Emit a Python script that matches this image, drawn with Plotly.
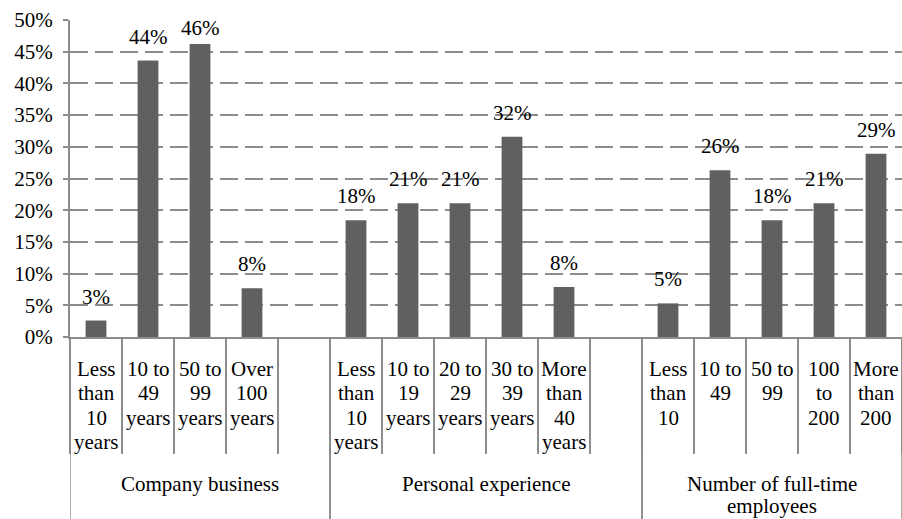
import plotly.graph_objects as go

# ---- data ----
groups = ["Company business", "Personal experience", "Number of full-time<br>employees"]
company_labels = ["Less<br>than<br>10<br>years", "10 to<br>49<br>years", "50 to<br>99<br>years", "Over<br>100<br>years"]
company_values = [0.026, 0.436, 0.462, 0.077]
personal_labels = ["Less<br>than<br>10<br>years", "10 to<br>19<br>years", "20 to<br>29<br>years", "30 to<br>39<br>years", "More<br>than<br>40<br>years"]
personal_values = [0.184, 0.211, 0.211, 0.316, 0.079]
employee_labels = ["Less<br>than<br>10", "10 to<br>49", "50 to<br>99", "100<br>to<br>200", "More<br>than<br>200"]
employee_values = [0.053, 0.263, 0.184, 0.211, 0.289]
y_ticks = [0, 0.05, 0.10, 0.15, 0.20, 0.25, 0.30, 0.35, 0.40, 0.45, 0.50]

# group definitions (label lists, values, whether a blank slot follows)
group_data = [
    (groups[0], company_labels, company_values, True),
    (groups[1], personal_labels, personal_values, True),
    (groups[2], employee_labels, employee_values, False),
]

BAR = "#606060"
GRID = "#8c8c8c"
FONT = "Liberation Serif, Times New Roman, serif"
FS = 21

all_keys, bar_keys, bar_vals, sub_labels = [], [], [], []
group_spans = []
for g, labels, vals, gap in group_data:
    start = len(all_keys)
    for lab, v in zip(labels, vals):
        key = g + " | " + lab
        all_keys.append(key)
        bar_keys.append(key)
        bar_vals.append(v)
        sub_labels.append((key, lab))
    if gap:
        all_keys.append(g + " | gap")
    group_spans.append((g, start, len(all_keys)))

fig = go.Figure()
fig.add_trace(go.Bar(x=bar_keys, y=bar_vals, marker=dict(color=BAR, line=dict(width=0)),
                     hoverinfo="skip"))

annotations = []
# data labels
for k, v in zip(bar_keys, bar_vals):
    annotations.append(dict(x=k, y=v, xref="x", yref="y", text=f"{round(v*100):.0f}%",
                            showarrow=False, yanchor="bottom", yshift=2 if v > 0.45 else 10,
                            font=dict(family=FONT, size=FS, color="black")))
# category labels, line by line
LINE = 24.4
for k, lab in sub_labels:
    for i, line in enumerate(lab.split("<br>")):
        annotations.append(dict(x=k, y=0, xref="x", yref="paper", text=line, showarrow=False,
                                yanchor="middle", yshift=-(32 + LINE * i),
                                font=dict(family=FONT, size=FS, color="black")))
# group labels
shapes = []
for g, s, e in group_spans:
    for i, line in enumerate(g.split("<br>")):
        annotations.append(dict(x=(s + e - 1) / 2, y=0, xref="x", yref="paper", text=line,
                                showarrow=False, yanchor="middle", yshift=-(147 + 22 * i),
                                font=dict(family=FONT, size=FS, color="black")))
    for xb in (s - 0.5, e - 0.5):
        shapes.append(dict(type="line", xref="x", yref="paper", x0=xb, x1=xb, y0=0, y1=-0.62,
                           line=dict(color=GRID, width=1.5)))

fig.update_layout(
    width=902, height=519,
    margin=dict(l=70, r=0, t=20, b=182),
    plot_bgcolor="white", paper_bgcolor="white",
    font=dict(family=FONT, size=FS, color="black"),
    showlegend=False,
    bargap=0.6,
    annotations=annotations,
    shapes=shapes,
)
fig.update_xaxes(type="category", categoryorder="array", categoryarray=all_keys,
                 range=[-0.5, len(all_keys) - 0.5], automargin=False,
                 showticklabels=False, ticks="outside", tickson="boundaries",
                 ticklen=115, tickwidth=1.5, tickcolor=GRID,
                 showline=True, linecolor=GRID, linewidth=2, showgrid=False)
fig.update_yaxes(range=[0, 0.5], tickvals=y_ticks, tickformat=".0%", automargin=False,
                 showgrid=True, gridcolor=GRID, gridwidth=1.5, griddash="18px,7px",
                 zeroline=False, showline=True, linecolor=GRID, linewidth=2,
                 ticks="outside", ticklen=5, tickwidth=1.5, tickcolor=GRID,
                 ticklabelstandoff=6, tickfont=dict(family=FONT, size=FS, color="black"))

fig.write_html("out.html", config={"displayModeBar": False},
               post_script="document.body.style.margin='0';document.body.style.overflow='hidden';")
